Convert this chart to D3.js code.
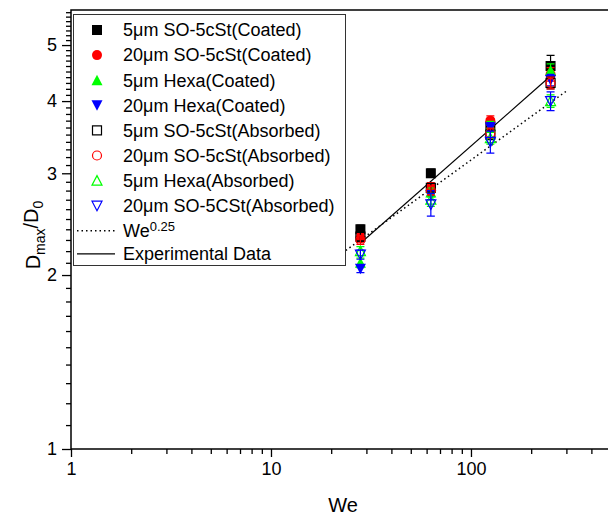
<!DOCTYPE html>
<html lang="en">
	<head>
		<meta charset="utf-8">
		<title>Dmax/D0 vs We</title>
		<style>
			body { margin: 0; background: #fff; }
			text { font-family: "Liberation Sans", Arial, sans-serif; fill: #000; }
		</style>
	</head>
	<body>
		<div id="chart"></div>

		<script src="https://d3js.org/d3.v7.min.js"></script>
		<script>

			// Weber numbers of the four test conditions
			var weValues = [28, 63, 125, 250]

			// series values (Dmax/D0) and error half-widths
			var so5Coated     = [2.40, 3.00, 3.62, 4.60]
			var so5CoatedErr  = [0.04, 0.05, 0.08, 0.20]
			var so20Coated    = [2.32, 2.84, 3.70, 4.45]
			var so20CoatedErr = [0.04, 0.05, 0.07, 0.12]
			var hexa5Coated    = [2.10, 2.78, 3.62, 4.52]
			var hexa5CoatedErr = [0.04, 0.05, 0.07, 0.12]
			var hexa20Coated    = [2.05, 2.75, 3.60, 4.35]
			var hexa20CoatedErr = [0.03, 0.05, 0.07, 0.10]
			var so5Abs     = [2.33, 2.83, 3.50, 4.30]
			var so5AbsErr  = [0.04, 0.05, 0.07, 0.10]
			var so20Abs    = [2.30, 2.80, 3.52, 4.30]
			var so20AbsErr = [0.04, 0.05, 0.07, 0.10]
			var hexa5Abs    = [2.20, 2.70, 3.45, 4.00]
			var hexa5AbsErr = [0.04, 0.07, 0.08, 0.10]
			var so20bAbs    = [2.17, 2.65, 3.40, 4.00]
			var so20bAbsErr = [0.04, 0.12, 0.15, 0.15]

			// reference lines
			var powerLineX = [20, 300]
			var powerLineY = [2.115, 4.162]   // We^0.25
			var expLineX = [28, 250]
			var expLineY = [2.27, 4.42]

			// axis ticks
			var xMajor = [1, 10, 100]
			var xMinor = [2, 3, 4, 5, 6, 7, 8, 9, 20, 30, 40, 50, 60, 70, 80, 90, 200, 300, 400, 500]
			var yMajor = [1, 2, 3, 4, 5]
			var yMinor = d3.range(11, 58).map(function(d) { return d / 10; }).filter(function(d) { return yMajor.indexOf(d) < 0; })

			var series = [
				{name: "5\u03bcm SO-5cSt(Coated)",     y: so5Coated,    e: so5CoatedErr,    color: "#000000", shape: "square",   filled: true},
				{name: "20\u03bcm SO-5cSt(Coated)",    y: so20Coated,   e: so20CoatedErr,   color: "#ff0000", shape: "circle",   filled: true},
				{name: "5\u03bcm Hexa(Coated)",        y: hexa5Coated,  e: hexa5CoatedErr,  color: "#00ff00", shape: "triUp",    filled: true},
				{name: "20\u03bcm Hexa(Coated)",       y: hexa20Coated, e: hexa20CoatedErr, color: "#0000ff", shape: "triDown",  filled: true},
				{name: "5\u03bcm SO-5cSt(Absorbed)",   y: so5Abs,       e: so5AbsErr,       color: "#000000", shape: "square",   filled: false},
				{name: "20\u03bcm SO-5cSt(Absorbed)",  y: so20Abs,      e: so20AbsErr,      color: "#ff0000", shape: "circle",   filled: false},
				{name: "5\u03bcm Hexa(Absorbed)",      y: hexa5Abs,     e: hexa5AbsErr,     color: "#00ff00", shape: "triUp",    filled: false},
				{name: "20\u03bcm SO-5CSt(Absorbed)",  y: so20bAbs,     e: so20bAbsErr,     color: "#0000ff", shape: "triDown",  filled: false}
			]

			var W = 608, H = 517

			var svg = d3.select("#chart")
			  .append("svg")
			    .attr("width", W)
			    .attr("height", H)

			var x = d3.scaleLog()
			  .domain([1, 525])
			  .range([71, 615])

			var y = d3.scaleLog()
			  .domain([1, 5.75])
			  .range([449, 10])

			function symbolPath(shape, s) {
				var h = s / 2
				if (shape == "square") return "M" + (-h) + "," + (-h) + "h" + s + "v" + s + "h" + (-s) + "Z"
				if (shape == "circle") return "M" + (-h) + ",0a" + h + "," + h + " 0 1,0 " + s + ",0a" + h + "," + h + " 0 1,0 " + (-s) + ",0Z"
				if (shape == "triUp") return "M0," + (-h - 0.5) + "L" + (h + 0.5) + "," + (h) + "L" + (-h - 0.5) + "," + (h) + "Z"
				return "M0," + (h + 0.5) + "L" + (h + 0.5) + "," + (-h) + "L" + (-h - 0.5) + "," + (-h) + "Z"
			}

			// minor ticks
			svg.append("g")
			  .attr("transform", "translate(0," + y(1) + ")")
			  .call(d3.axisBottom(x).tickValues(xMinor).tickSize(5).tickFormat(""))
			  .call(function(g) { g.select(".domain").remove(); })
			svg.append("g")
			  .attr("transform", "translate(" + x(1) + ",0)")
			  .call(d3.axisLeft(y).tickValues(yMinor).tickSize(5).tickFormat(""))
			  .call(function(g) { g.select(".domain").remove(); })

			// major ticks with labels
			var xAxis = svg.append("g")
			  .attr("transform", "translate(0," + y(1) + ")")
			  .call(d3.axisBottom(x).tickValues(xMajor).tickSize(8).tickPadding(5).tickFormat(d3.format("d")))
			xAxis.select(".domain").remove()
			xAxis.selectAll("text").style("font-size", "18px").attr("fill", "#000")

			var yAxis = svg.append("g")
			  .attr("transform", "translate(" + x(1) + ",0)")
			  .call(d3.axisLeft(y).tickValues(yMajor).tickSize(9).tickPadding(5).tickFormat(d3.format("d")))
			yAxis.select(".domain").remove()
			yAxis.selectAll("text").style("font-size", "18px").attr("fill", "#000")

			svg.selectAll(".tick line").attr("stroke", "#000").attr("stroke-width", 1.3)

			// frame (left, bottom, top)
			svg.append("path")
			  .attr("d", "M" + W + "," + y(5.75) + "H" + x(1) + "V" + y(1) + "H" + W)
			  .attr("fill", "none")
			  .attr("stroke", "#000")
			  .attr("stroke-width", 1.5)

			// reference lines
			var line = d3.line()
			  .x(function(d) { return x(d[0]); })
			  .y(function(d) { return y(d[1]); })

			svg.append("path")
			  .attr("d", line(d3.zip(powerLineX, powerLineY)))
			  .attr("fill", "none")
			  .attr("stroke", "#000")
			  .attr("stroke-width", 1.5)
			  .attr("stroke-dasharray", "1.5,3")

			svg.append("path")
			  .attr("d", line(d3.zip(expLineX, expLineY)))
			  .attr("fill", "none")
			  .attr("stroke", "#000")
			  .attr("stroke-width", 1.2)

			// data with error bars
			series.forEach(function(s) {
				var g = svg.append("g")
				var pts = weValues.map(function(w, i) { return {x: w, y: s.y[i], e: s.e[i]}; })

				g.selectAll("line.err")
				  .data(pts)
				  .enter()
				  .append("path")
				    .attr("d", function(d) {
				    	var cx = x(d.x), t = y(d.y + d.e), b = y(d.y - d.e)
				    	return "M" + cx + "," + t + "V" + b + "M" + (cx - 4) + "," + t + "h8M" + (cx - 4) + "," + b + "h8"
				    })
				    .attr("stroke", s.color)
				    .attr("stroke-width", 1.2)
				    .attr("fill", "none")

				g.selectAll("path.mark")
				  .data(pts)
				  .enter()
				  .append("path")
				    .attr("class", "mark")
				    .attr("transform", function(d) { return "translate(" + x(d.x) + "," + y(d.y) + ")"; })
				    .attr("d", symbolPath(s.shape, s.filled ? 10 : 9))
				    .attr("fill", s.filled ? s.color : "none")
				    .attr("stroke", s.color)
				    .attr("stroke-width", s.filled ? 0 : 1.2)
			})

			// legend
			var legend = svg.append("g")
			legend.append("rect")
			  .attr("x", 73.5).attr("y", 14.5)
			  .attr("width", 272).attr("height", 251)
			  .attr("fill", "#fff")
			  .attr("stroke", "#333")
			  .attr("stroke-width", 1)

			var rowY = function(i) { return 30 + i * 25.1; }

			series.forEach(function(s, i) {
				legend.append("path")
				  .attr("transform", "translate(97," + rowY(i) + ")")
				  .attr("d", symbolPath(s.shape, s.filled ? 10 : 9))
				  .attr("fill", s.filled ? s.color : "none")
				  .attr("stroke", s.color)
				  .attr("stroke-width", s.filled ? 0 : 1.2)
				legend.append("text")
				  .attr("x", 123).attr("y", rowY(i))
				  .attr("dy", "0.35em")
				  .style("font-size", "18px")
				  .text(s.name)
			})

			legend.append("path")
			  .attr("d", "M77," + rowY(8) + "H115")
			  .attr("stroke", "#000").attr("stroke-width", 1.5).attr("stroke-dasharray", "1.5,3")
			var t8 = legend.append("text")
			  .attr("x", 123).attr("y", rowY(8))
			  .attr("dy", "0.35em")
			  .style("font-size", "18px")
			t8.append("tspan").text("We")
			t8.append("tspan").attr("dy", "-0.45em").style("font-size", "13px").text("0.25")

			legend.append("path")
			  .attr("d", "M77," + (rowY(9) - 2) + "H115")
			  .attr("stroke", "#000").attr("stroke-width", 1.2)
			legend.append("text")
			  .attr("x", 123).attr("y", rowY(9) - 2)
			  .attr("dy", "0.35em")
			  .style("font-size", "18px")
			  .text("Experimental Data")

			// axis titles
			svg.append("text")
			  .attr("x", 343).attr("y", 512)
			  .attr("text-anchor", "middle")
			  .style("font-size", "20px")
			  .text("We")

			var yl = svg.append("text")
			  .attr("transform", "translate(40,235)rotate(-90)")
			  .attr("text-anchor", "middle")
			  .style("font-size", "20px")
			yl.append("tspan").text("D")
			yl.append("tspan").attr("dy", "0.35em").style("font-size", "14px").text("max")
			yl.append("tspan").attr("dy", "-0.35em").text("/D")
			yl.append("tspan").attr("dy", "0.35em").style("font-size", "14px").text("0")

		</script>
	</body>
</html>
